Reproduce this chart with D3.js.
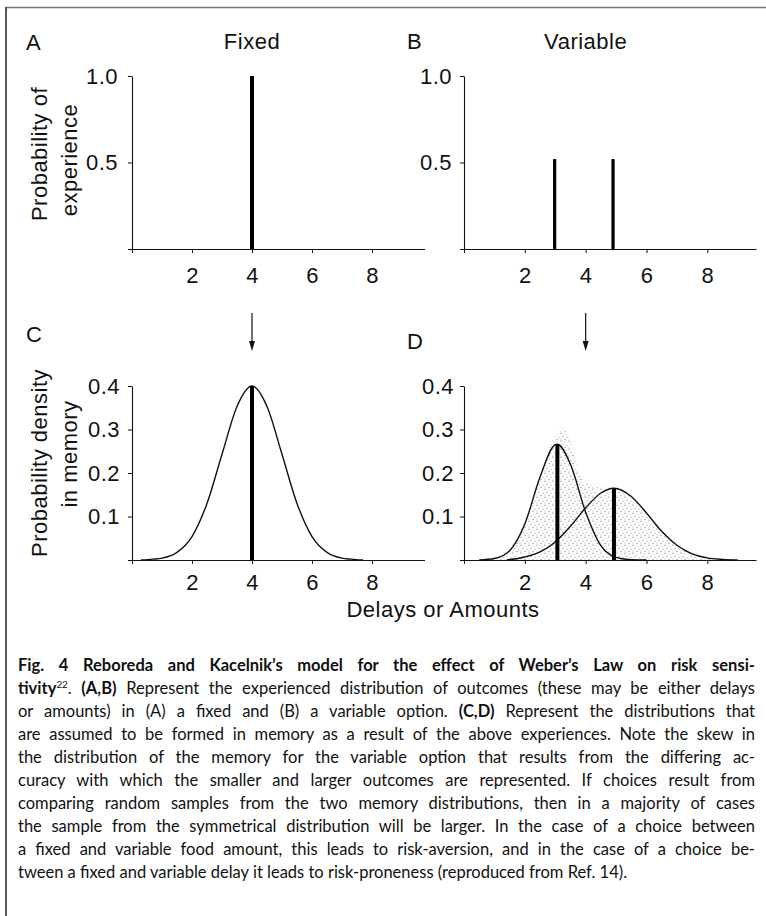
<!DOCTYPE html>
<html>
<head>
<meta charset="utf-8">
<script src="https://cdn.jsdelivr.net/npm/d3@7"></script>
<style>
body { margin: 0; background: #fff; }
#fig { position: relative; width: 766px; height: 916px; overflow: hidden; background: #fff; }
#fig svg { position: absolute; left: 0; top: 0; }
#caption { position: absolute; left: 18px; top: 654px; width: 737px;
  font-family: Lato, "Open Sans", sans-serif; font-size: 16.5px; line-height: 23px; color: #111; }
#caption div { white-space: nowrap; }
#caption b { font-weight: 700; }
#caption sup { font-size: 0.6em; line-height: 0; }
</style>
</head>
<body>
<div id="fig"></div>
<script>
// values
const xTicks = [0, 2, 4, 6, 8];
const topTicks = [0, 0.5, 1.0];
const bottomTicks = [0, 0.1, 0.2, 0.3, 0.4];

// A, B: experienced outcomes [x, probability]
const fixedBars = [[4, 1.0]];
const variableBars = [[2.98, 0.52], [4.9, 0.52]];

// C: memory for the fixed option [x, density]
const fixedMemory = [[0.3, 0], [0.7, 0.002], [1, 0.0044], [1.5, 0.0176], [2, 0.054], [2.5, 0.13],
  [3, 0.243], [3.5, 0.353], [4, 0.4], [4.5, 0.353], [5, 0.243], [5.5, 0.13], [6, 0.054],
  [6.5, 0.0176], [7, 0.0044], [7.3, 0.002], [7.7, 0]];
const fixedMemoryBars = [[4, 0.4]];

// D: memory for the variable option
const smallMemory = [[0.5, 0], [1, 0.0034], [1.5, 0.0215], [2, 0.083], [2.5, 0.191], [3, 0.265],
  [3.07, 0.266], [3.5, 0.22], [4, 0.11], [4.5, 0.033], [5, 0.006], [5.5, 0.0006], [6, 0]];
const largeMemory = [[1.4, 0], [2, 0.0069], [2.5, 0.0185], [3, 0.0415], [3.5, 0.0774], [4, 0.12],
  [4.5, 0.154], [4.93, 0.165], [5.5, 0.146], [6, 0.108], [6.5, 0.066], [7, 0.034], [7.5, 0.0143],
  [8, 0.005], [8.5, 0.0015], [9, 0]];
const combinedMemory = [[0.6, 0], [1, 0.005], [1.5, 0.028], [2, 0.088], [2.5, 0.196], [2.8, 0.257],
  [3.0, 0.285], [3.2, 0.303], [3.5, 0.272], [3.8, 0.195], [4.1, 0.174], [4.5, 0.166], [4.93, 0.166],
  [5.5, 0.148], [6, 0.11], [6.5, 0.068], [7, 0.035], [7.5, 0.015], [8, 0.006], [8.5, 0.002], [8.9, 0]];
const variableMemoryBars = [[3.07, 0.266], [4.93, 0.165]];

const arrowAt = 4;

const captionLines = [
  "<b>Fig. 4 Reboreda and Kacelnik\u2019s model for the effect of Weber\u2019s Law on risk sensi-</b>",
  "<b>tivity</b><sup>22</sup>. <b>(A,B)</b> Represent the experienced distribution of outcomes (these may be either delays",
  "or amounts) in (A) a fixed and (B) a variable option. <b>(C,D)</b> Represent the distributions that",
  "are assumed to be formed in memory as a result of the above experiences. Note the skew in",
  "the distribution of the memory for the variable option that results from the differing ac-",
  "curacy with which the smaller and larger outcomes are represented. If choices result from",
  "comparing random samples from the two memory distributions, then in a majority of cases",
  "the sample from the symmetrical distribution will be larger. In the case of a choice between",
  "a fixed and variable food amount, this leads to risk-aversion, and in the case of a choice be-",
  "tween a fixed and variable delay it leads to risk-proneness (reproduced from Ref. 14)."
];

const W = 766, H = 916;
const font = '"Liberation Sans", Arial, Helvetica, sans-serif';
const fs = 22;

const svg = d3.select('#fig').append('svg')
  .attr('width', W).attr('height', H);

// stipple pattern for the shaded memory distribution
const pat = svg.append('defs').append('pattern')
  .attr('id', 'dots')
  .attr('patternUnits', 'userSpaceOnUse')
  .attr('width', 8).attr('height', 8);
[[1, 1, '#555'], [5, 2, '#aaa'], [3, 4.5, '#777'], [7, 5.5, '#999'], [1, 7, '#bbb'], [5, 7.5, '#666']]
  .forEach(d => pat.append('circle').attr('cx', d[0]).attr('cy', d[1]).attr('r', 0.6).attr('fill', d[2]));

// frame
svg.append('line').attr('x1', 6).attr('x2', W).attr('y1', 7.5).attr('y2', 7.5)
  .attr('stroke', '#777').attr('stroke-width', 1.5);
svg.append('line').attr('x1', 6).attr('x2', 6).attr('y1', 7).attr('y2', H)
  .attr('stroke', '#222').attr('stroke-width', 1.5);

const xLeft = d3.scaleLinear().domain([0, 9.75]).range([132, 424.5]);
const xRight = d3.scaleLinear().domain([0, 9.6]).range([464, 756]);
const yTop = d3.scaleLinear().domain([0, 1]).range([249, 76]);
const yBottom = d3.scaleLinear().domain([0, 0.4]).range([560, 386]);

function styleAxis(g) {
  g.select('.domain').attr('stroke', '#111').attr('stroke-width', 1.1);
  g.selectAll('.tick line').attr('stroke', '#111').attr('stroke-width', 1);
  g.selectAll('.tick text').attr('fill', '#111')
    .style('font-family', font).style('font-size', fs + 'px').style('letter-spacing', '0.5px');
}

function drawAxes(x, y, yTicks, xPad, yPad) {
  const y0 = y(0), x0 = x(0);
  svg.append('g')
    .attr('transform', `translate(0,${y0})`)
    .call(d3.axisBottom(x).tickValues(xTicks).tickSize(4).tickSizeOuter(0).tickPadding(xPad)
      .tickFormat(d => d === 0 ? '' : d))
    .call(styleAxis);
  svg.append('g')
    .attr('transform', `translate(${x0},0)`)
    .call(d3.axisLeft(y).tickValues(yTicks).tickSize(4).tickSizeOuter(0).tickPadding(yPad)
      .tickFormat(d => d === 0 ? '' : d3.format('.1f')(d)))
    .call(styleAxis);
}

function drawBars(data, x, y, w) {
  svg.append('g').selectAll('line')
    .data(data).enter().append('line')
    .attr('x1', d => x(d[0])).attr('x2', d => x(d[0]))
    .attr('y1', y(0)).attr('y2', d => y(d[1]))
    .attr('stroke', '#000').attr('stroke-width', w);
}

function drawCurve(data, x, y) {
  const line = d3.line().x(d => x(d[0])).y(d => y(d[1])).curve(d3.curveMonotoneX);
  svg.append('path').datum(data)
    .attr('fill', 'none').attr('stroke', '#111').attr('stroke-width', 1.4)
    .attr('d', line);
}

function label(txt, x, y, anchor, size) {
  return svg.append('text')
    .attr('x', x).attr('y', y)
    .attr('text-anchor', anchor || 'start')
    .style('font-family', font).style('font-size', (size || fs) + 'px')
    .style('letter-spacing', '0.5px')
    .attr('fill', '#111')
    .text(txt);
}

function rotLabel(txt, x, y) {
  svg.append('text')
    .attr('transform', `translate(${x},${y}) rotate(-90)`)
    .attr('text-anchor', 'middle')
    .style('font-family', font).style('font-size', fs + 'px')
    .style('letter-spacing', '0.5px')
    .attr('fill', '#111')
    .text(txt);
}

function arrow(x) {
  svg.append('line').attr('x1', x).attr('x2', x).attr('y1', 313).attr('y2', 343)
    .attr('stroke', '#111').attr('stroke-width', 1.2);
  svg.append('path')
    .attr('d', `M${x - 3},341 L${x + 3},341 L${x},351 Z`)
    .attr('fill', '#111');
}

// panel A
drawAxes(xLeft, yTop, topTicks, 14, 10);
drawBars(fixedBars, xLeft, yTop, 4);
label('A', 26, 50);
label('Fixed', xLeft(4), 49, 'middle');
rotLabel('Probability of', 47, 154);
rotLabel('experience', 77, 160);

// panel B
drawAxes(xRight, yTop, topTicks, 14, 8);
drawBars(variableBars, xRight, yTop, 3.2);
label('B', 407, 49);
label('Variable', xRight(4), 49, 'middle');

// panel C
arrow(xLeft(arrowAt));
drawAxes(xLeft, yBottom, bottomTicks, 10, 8);
drawCurve(fixedMemory, xLeft, yBottom);
drawBars(fixedMemoryBars, xLeft, yBottom, 4);
label('C', 26, 342);
rotLabel('Probability density', 47, 463);
rotLabel('in memory', 77, 454);

// panel D
arrow(xRight(arrowAt));
const area = d3.area().x(d => xRight(d[0])).y0(yBottom(0)).y1(d => yBottom(d[1])).curve(d3.curveMonotoneX);
svg.append('path').datum(combinedMemory).attr('fill', 'url(#dots)').attr('d', area);
drawAxes(xRight, yBottom, bottomTicks, 10, 6);
drawCurve(smallMemory, xRight, yBottom);
drawCurve(largeMemory, xRight, yBottom);
drawBars(variableMemoryBars, xRight, yBottom, 4);
label('D', 407, 349);

label('Delays or Amounts', 443, 617, 'middle');

// caption, each printed line justified to the column width
const cap = d3.select('#fig').append('div').attr('id', 'caption');
const colW = 737;
captionLines.forEach((html, i) => {
  const div = cap.append('div').html(html).style('display', 'inline-block');
  const node = div.node();
  const w = node.getBoundingClientRect().width;
  const spaces = (node.textContent.match(/ /g) || []).length;
  if (i < captionLines.length - 1 && spaces > 0) {
    div.style('word-spacing', ((colW - w) / spaces) + 'px');
  }
  div.style('display', 'block');
});
</script>
</body>
</html>
